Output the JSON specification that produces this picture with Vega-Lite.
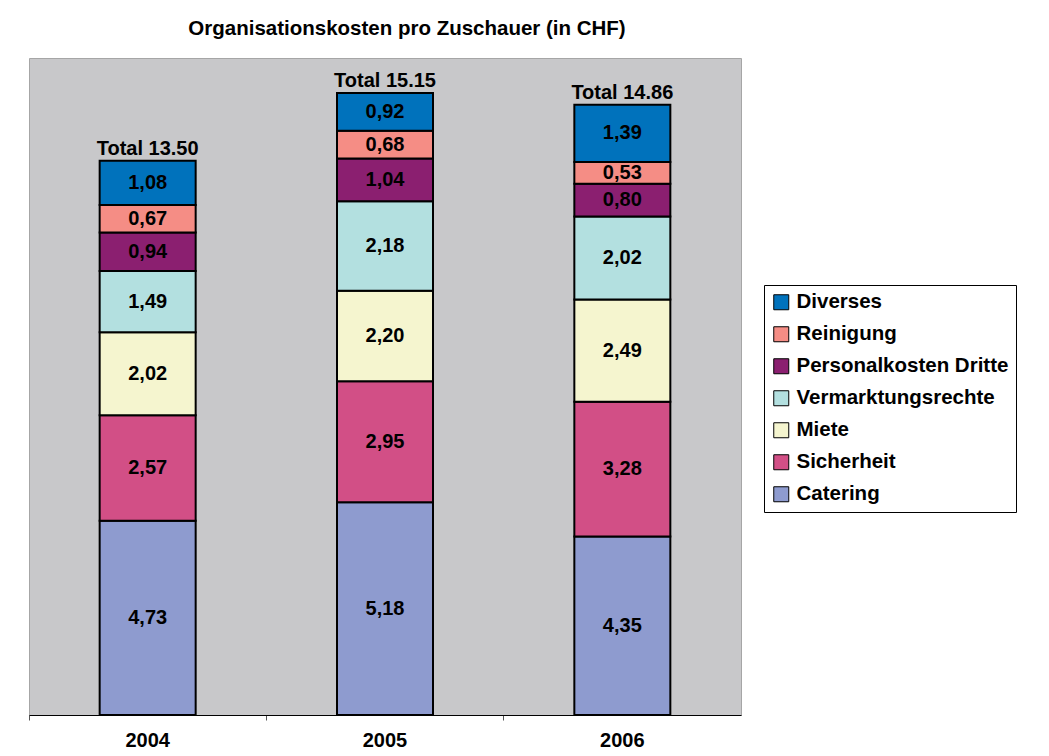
{
  "$schema": "https://vega.github.io/schema/vega-lite/v6.json",
  "width": 712,
  "height": 657,
  "autosize": {"type": "none"},
  "padding": {"left": 29, "top": 58, "right": 308, "bottom": 41},
  "background": "white",
  "title": {
    "text": "Organisationskosten pro Zuschauer (in CHF)",
    "font": "Liberation Sans",
    "fontSize": 20.5,
    "fontWeight": "bold",
    "color": "black",
    "anchor": "middle",
    "dx": 22,
    "offset": 19
  },
  "config": {
    "view": {"fill": "#C8C8CA", "stroke": "#A6A6A6", "strokeWidth": 1},
    "font": "Liberation Sans"
  },
  "data": {
    "values": [
      {"year": "2004", "cat": "Catering", "ord": 1, "value": 4.73},
      {"year": "2004", "cat": "Sicherheit", "ord": 2, "value": 2.57},
      {"year": "2004", "cat": "Miete", "ord": 3, "value": 2.02},
      {"year": "2004", "cat": "Vermarktungsrechte", "ord": 4, "value": 1.49},
      {"year": "2004", "cat": "Personalkosten Dritte", "ord": 5, "value": 0.94},
      {"year": "2004", "cat": "Reinigung", "ord": 6, "value": 0.67},
      {"year": "2004", "cat": "Diverses", "ord": 7, "value": 1.08},
      {"year": "2005", "cat": "Catering", "ord": 1, "value": 5.18},
      {"year": "2005", "cat": "Sicherheit", "ord": 2, "value": 2.95},
      {"year": "2005", "cat": "Miete", "ord": 3, "value": 2.20},
      {"year": "2005", "cat": "Vermarktungsrechte", "ord": 4, "value": 2.18},
      {"year": "2005", "cat": "Personalkosten Dritte", "ord": 5, "value": 1.04},
      {"year": "2005", "cat": "Reinigung", "ord": 6, "value": 0.68},
      {"year": "2005", "cat": "Diverses", "ord": 7, "value": 0.92},
      {"year": "2006", "cat": "Catering", "ord": 1, "value": 4.35},
      {"year": "2006", "cat": "Sicherheit", "ord": 2, "value": 3.28},
      {"year": "2006", "cat": "Miete", "ord": 3, "value": 2.49},
      {"year": "2006", "cat": "Vermarktungsrechte", "ord": 4, "value": 2.02},
      {"year": "2006", "cat": "Personalkosten Dritte", "ord": 5, "value": 0.80},
      {"year": "2006", "cat": "Reinigung", "ord": 6, "value": 0.53},
      {"year": "2006", "cat": "Diverses", "ord": 7, "value": 1.39}
    ]
  },
  "encoding": {
    "x": {
      "field": "year",
      "type": "nominal",
      "scale": {"paddingInner": 0, "paddingOuter": 0},
      "axis": {
        "title": null,
        "labelAngle": 0,
        "labelFont": "Liberation Sans",
        "labelFontSize": 20,
        "labelFontWeight": "bold",
        "labelColor": "black",
        "labelPadding": 10,
        "domainColor": "black",
        "domainWidth": 1,
        "tickColor": "#555555",
        "tickSize": 5,
        "bandPosition": 0,
        "labelOffset": 0
      }
    }
  },
  "layer": [
    {
      "transform": [
        {"stack": "value", "groupby": ["year"], "sort": [{"field": "ord", "order": "ascending"}], "as": ["y0", "y1"]}
      ],
      "mark": {"type": "bar", "width": 96, "stroke": "black", "strokeWidth": 2},
      "encoding": {
        "y": {"field": "y0", "type": "quantitative", "scale": {"domain": [0, 16], "nice": false}, "axis": null},
        "y2": {"field": "y1"},
        "color": {
          "field": "cat",
          "type": "nominal",
          "scale": {
            "domain": ["Diverses", "Reinigung", "Personalkosten Dritte", "Vermarktungsrechte", "Miete", "Sicherheit", "Catering"],
            "range": ["#0072BC", "#F58D85", "#8B1F70", "#B3E0E0", "#F5F5CF", "#D24F86", "#8E9BCF"]
          },
          "legend": {
            "title": null,
            "orient": "none",
            "legendX": 735,
            "legendY": 227,
            "symbolType": "square",
            "symbolSize": 225,
            "symbolStrokeColor": "black",
            "symbolStrokeWidth": 1,
            "symbolOpacity": 1,
            "labelFont": "Liberation Sans",
            "labelFontSize": 20.5,
            "labelFontWeight": "bold",
            "labelColor": "black",
            "labelOffset": 5,
            "labelLimit": 400,
            "rowPadding": 11,
            "padding": 7,
            "strokeColor": "black",
            "fillColor": "white"
          }
        }
      }
    },
    {
      "transform": [
        {"stack": "value", "groupby": ["year"], "sort": [{"field": "ord", "order": "ascending"}], "as": ["y0", "y1"]},
        {"calculate": "(datum.y0 + datum.y1) / 2", "as": "mid"},
        {"calculate": "replace(format(datum.value, '.2f'), '.', ',')", "as": "label"}
      ],
      "mark": {"type": "text", "font": "Liberation Sans", "fontSize": 20, "fontWeight": "bold", "color": "black", "baseline": "middle"},
      "encoding": {
        "y": {"field": "mid", "type": "quantitative", "scale": {"domain": [0, 16], "nice": false}, "axis": null},
        "text": {"field": "label"}
      }
    },
    {
      "transform": [
        {"aggregate": [{"op": "sum", "field": "value", "as": "total"}], "groupby": ["year"]},
        {"calculate": "'Total ' + format(datum.total, '.2f')", "as": "tlabel"}
      ],
      "mark": {"type": "text", "font": "Liberation Sans", "fontSize": 20, "fontWeight": "bold", "color": "black", "baseline": "alphabetic", "dy": -6},
      "encoding": {
        "y": {"field": "total", "type": "quantitative", "scale": {"domain": [0, 16], "nice": false}, "axis": null},
        "text": {"field": "tlabel"}
      }
    }
  ]
}
